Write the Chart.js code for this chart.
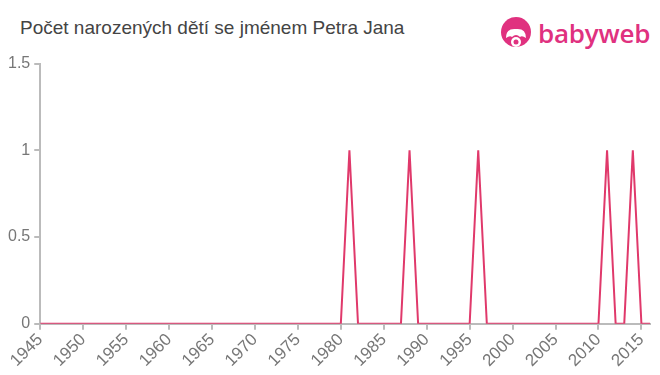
<!DOCTYPE html>
<html>
<head>
<meta charset="utf-8">
<script src="https://cdn.jsdelivr.net/npm/chart.js@4/dist/chart.umd.min.js"></script>
<style>
  html, body { margin:0; padding:0; background:#fff; width:660px; height:375px; overflow:hidden; }
  #title { position:absolute; left:20px; top:17px; font-family:"Liberation Sans", Arial, sans-serif; font-size:19px; color:#444; white-space:nowrap; }
  #logo { position:absolute; left:500px; top:15px; height:36px; display:flex; align-items:center; }
  #logo span { font-family:"Open Sans", "DejaVu Sans", sans-serif; font-size:26px; color:#e0317f; font-weight:600; margin-left:6px; letter-spacing:-0.2px; }
  #wrap { position:absolute; left:0; top:50px; width:660px; height:325px; }
</style>
</head>
<body>
<div id="title">Počet narozených dětí se jménem Petra Jana</div>
<div id="logo">
  <svg width="32" height="34" viewBox="0 0 32 34">
    <circle cx="16" cy="16" r="15" fill="#e0317f"/>
    <path d="M6 22 Q6 12 16 13 Q26 12 26 22 Q22 19 20 21 Q16 17 12 21 Q10 19 6 22 Z" fill="#fff"/>
    <circle cx="16" cy="26" r="5" fill="#fff"/>
    <circle cx="16" cy="26" r="2.5" fill="#e0317f"/>
  </svg>
  <span>babyweb</span>
</div>
<div id="wrap"><canvas id="c"></canvas></div>
<script>
const years = [1945,1946,1947,1948,1949,1950,1951,1952,1953,1954,1955,1956,1957,1958,1959,1960,1961,1962,1963,1964,1965,1966,1967,1968,1969,1970,1971,1972,1973,1974,1975,1976,1977,1978,1979,1980,1981,1982,1983,1984,1985,1986,1987,1988,1989,1990,1991,1992,1993,1994,1995,1996,1997,1998,1999,2000,2001,2002,2003,2004,2005,2006,2007,2008,2009,2010,2011,2012,2013,2014,2015,2016];
const births = [0,0,0,0,0,0,0,0,0,0,0,0,0,0,0,0,0,0,0,0,0,0,0,0,0,0,0,0,0,0,0,0,0,0,0,0,1,0,0,0,0,0,0,1,0,0,0,0,0,0,0,1,0,0,0,0,0,0,0,0,0,0,0,0,0,0,1,0,0,1,0,0];
const xTickLabels = [1945,1950,1955,1960,1965,1970,1975,1980,1985,1990,1995,2000,2005,2010,2015];
const yTickLabels = [0,0.5,1,1.5];

const axisColor = '#bbbbbb';
const fam = '"Liberation Sans", Arial, sans-serif';

new Chart(document.getElementById('c'), {
  type: 'line',
  data: {
    datasets: [{
      data: years.map((y, i) => ({ x: y, y: births[i] })),
      borderColor: '#e0396b',
      borderWidth: 2,
      pointRadius: 0,
      tension: 0,
      fill: false
    }]
  },
  options: {
    responsive: true,
    maintainAspectRatio: false,
    animation: false,
    layout: { padding: { left: 4, right: 10, top: 4, bottom: 4 } },
    plugins: { legend: { display: false }, tooltip: { enabled: false } },
    scales: {
      x: {
        type: 'linear',
        min: 1945,
        max: 2016,
        afterBuildTicks: (axis) => { axis.ticks = xTickLabels.map(v => ({ value: v })); },
        ticks: {
          color: '#777',
          font: { family: fam, size: 17 },
          maxRotation: 45, minRotation: 45,
          autoSkip: false,
          padding: 0,
          callback: (v) => String(v)
        },
        grid: { drawOnChartArea: false, color: axisColor, lineWidth: 2, tickLength: 6 },
        border: { color: axisColor, width: 2 }
      },
      y: {
        min: 0,
        max: 1.5,
        afterBuildTicks: (axis) => { axis.ticks = yTickLabels.map(v => ({ value: v })); },
        ticks: { color: '#777', font: { family: fam, size: 16 }, padding: 4, callback: (v) => String(v) },
        grid: { drawOnChartArea: false, color: axisColor, lineWidth: 2, tickLength: 6 },
        border: { color: axisColor, width: 2 }
      }
    }
  }
});
</script>
</body>
</html>
